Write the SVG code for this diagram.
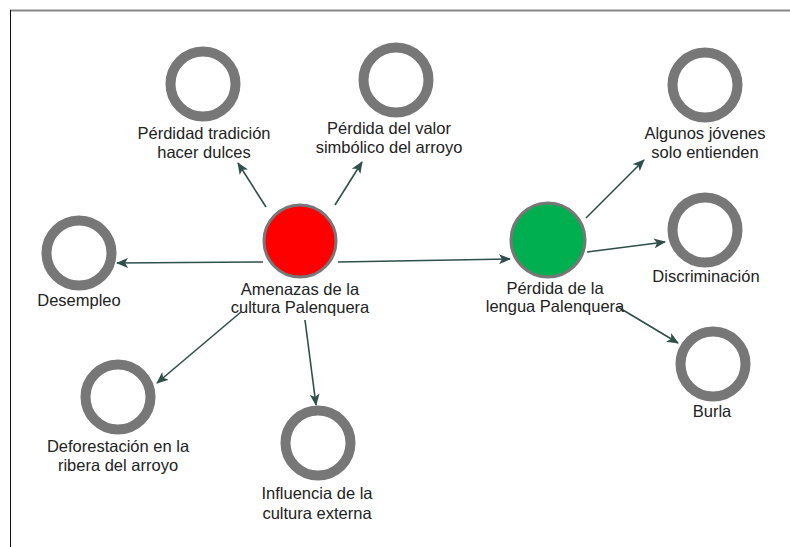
<svg xmlns="http://www.w3.org/2000/svg" width="790" height="547" viewBox="0 0 790 547">
<style>
.ring{fill:none;stroke:#777;stroke-width:10}
.lbl{font-family:"Liberation Sans",Arial,sans-serif;font-size:16.5px;fill:#222;text-anchor:middle}
.edge{stroke:#2f4f4a;stroke-width:1.6;fill:none;marker-end:url(#ah)}
</style>
<defs>
<marker id="ah" viewBox="0 0 12 10" refX="11" refY="5" markerWidth="12" markerHeight="10" markerUnits="userSpaceOnUse" orient="auto">
<path d="M0,0 L12,5 L0,10 L3,5 Z" fill="#2f4f4a"/>
</marker>
</defs>
<rect width="790" height="547" fill="#fff"/>
<line x1="10" y1="10.5" x2="790" y2="10.5" stroke="#888" stroke-width="2"/>
<line x1="10.5" y1="10" x2="10.5" y2="547" stroke="#111" stroke-width="1"/>
<g id="connectors">
<line class="edge" x1="263" y1="262" x2="117" y2="263"/>
<line class="edge" x1="338" y1="262" x2="510" y2="259"/>
<line class="edge" x1="266" y1="207" x2="238" y2="163"/>
<line class="edge" x1="335" y1="205" x2="362" y2="162"/>
<line class="edge" x1="241" y1="312" x2="157" y2="383"/>
<line class="edge" x1="305" y1="320" x2="316" y2="405"/>
<line class="edge" x1="586" y1="218" x2="644" y2="160"/>
<line class="edge" x1="587" y1="252" x2="665" y2="242"/>
<line class="edge" x1="618" y1="307" x2="678" y2="343"/>
</g>
<g id="amenazas">
<circle cx="300" cy="241" r="36" fill="#ff0000" stroke="#777" stroke-width="3"/>
<text class="lbl" x="300" y="295">Amenazas de la</text>
<text class="lbl" x="300" y="313">cultura Palenquera</text>
</g>
<g id="perdida-lengua">
<circle cx="548" cy="240" r="37" fill="#00b050" stroke="#777" stroke-width="3"/>
<text class="lbl" x="555" y="294">Pérdida de la</text>
<text class="lbl" x="555" y="312">lengua Palenquera</text>
</g>
<g id="dulces">
<circle class="ring" cx="203" cy="84" r="32.5"/>
<text class="lbl" x="204" y="139">Pérdidad tradición</text>
<text class="lbl" x="204" y="158">hacer dulces</text>
</g>
<g id="arroyo">
<circle class="ring" cx="396" cy="80" r="32.5"/>
<text class="lbl" x="389" y="134">Pérdida del valor</text>
<text class="lbl" x="389" y="153">simbólico del arroyo</text>
</g>
<g id="jovenes">
<circle class="ring" cx="705" cy="85" r="32.5"/>
<text class="lbl" x="705" y="139">Algunos jóvenes</text>
<text class="lbl" x="705" y="158">solo entienden</text>
</g>
<g id="discriminacion">
<circle class="ring" cx="705" cy="230" r="32.5"/>
<text class="lbl" x="706" y="282">Discriminación</text>
</g>
<g id="desempleo">
<circle class="ring" cx="79" cy="253" r="32.5"/>
<text class="lbl" x="79" y="306">Desempleo</text>
</g>
<g id="deforestacion">
<circle class="ring" cx="118" cy="397" r="32.5"/>
<text class="lbl" x="118" y="452">Deforestación en la</text>
<text class="lbl" x="118" y="471">ribera del arroyo</text>
</g>
<g id="influencia">
<circle class="ring" cx="318" cy="443" r="32.5"/>
<text class="lbl" x="317" y="499">Influencia de la</text>
<text class="lbl" x="317" y="519">cultura externa</text>
</g>
<g id="burla">
<circle class="ring" cx="713" cy="364" r="32.5"/>
<text class="lbl" x="712" y="417">Burla</text>
</g>
</svg>
